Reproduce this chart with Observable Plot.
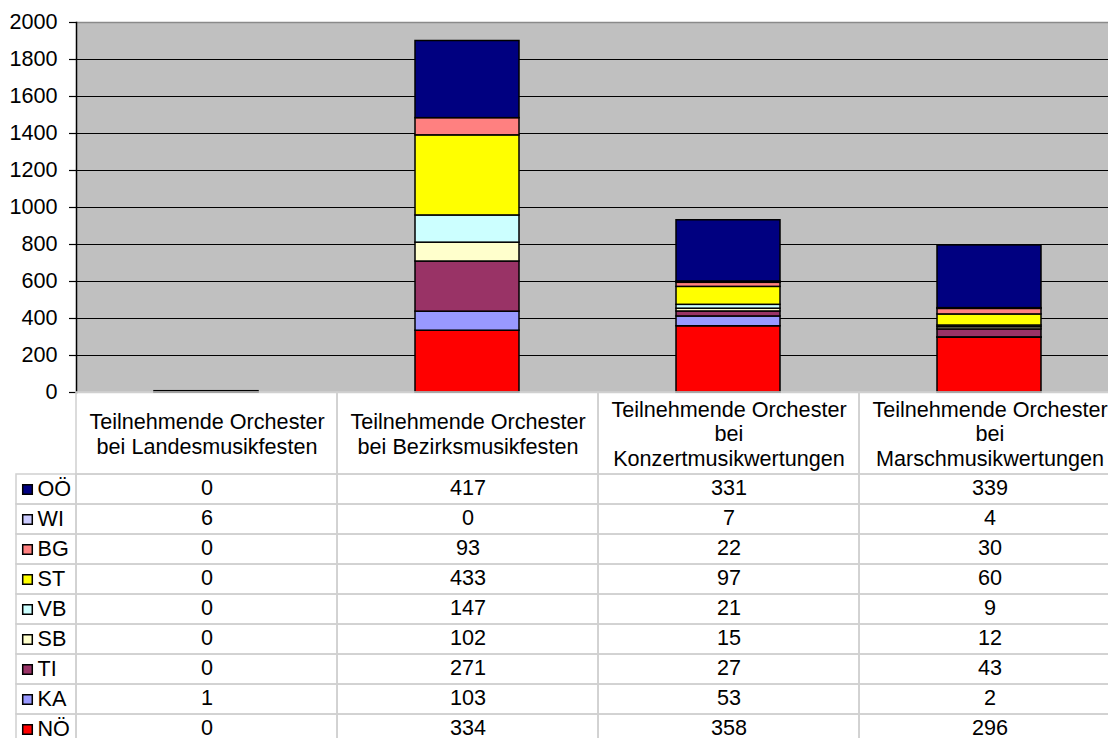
<!DOCTYPE html>
<html><head><meta charset="utf-8">
<script src="https://cdn.jsdelivr.net/npm/d3@7"></script>
<script src="https://cdn.jsdelivr.net/npm/@observablehq/plot@0.6"></script>
<style>
html,body{margin:0;padding:0;background:#fff;overflow:hidden;width:1108px;height:738px}
body{font-family:"Liberation Sans",Arial,sans-serif}
.row{display:flex;flex-wrap:nowrap}
svg{display:block;flex:none;max-width:none !important}
</style></head><body>
<div id="chart"></div>
<div class="row"><div style="width:76px;flex:none"></div><div id="head"></div></div>
<div class="row"><div id="legend"></div><div id="cells"></div></div>
<script>
const categories = [
  "Teilnehmende Orchester\nbei Landesmusikfesten",
  "Teilnehmende Orchester\nbei Bezirksmusikfesten",
  "Teilnehmende Orchester\nbei\nKonzertmusikwertungen",
  "Teilnehmende Orchester\nbei\nMarschmusikwertungen"
];
const seriesNames = ["OÖ", "WI", "BG", "ST", "VB", "SB", "TI", "KA", "NÖ"];
const seriesColors = ["#000080", "#ccccff", "#ff8080", "#ffff00", "#ccffff", "#ffffcc", "#993366", "#9999ff", "#ff0000"];
const valuesOO = [0, 417, 331, 339];
const valuesWI = [6, 0, 7, 4];
const valuesBG = [0, 93, 22, 30];
const valuesST = [0, 433, 97, 60];
const valuesVB = [0, 147, 21, 9];
const valuesSB = [0, 102, 15, 12];
const valuesTI = [0, 271, 27, 43];
const valuesKA = [1, 103, 53, 2];
const valuesNO = [0, 334, 358, 296];
const yTicks = [0, 200, 400, 600, 800, 1000, 1200, 1400, 1600, 1800, 2000];

const seriesValues = [valuesOO, valuesWI, valuesBG, valuesST, valuesVB, valuesSB, valuesTI, valuesKA, valuesNO];
const font = "Liberation Sans, Arial, sans-serif";
const gridGray = "#d0d0d0";
const fs = 21.6;

const tableData = [];
seriesNames.forEach((s, k) => categories.forEach((c, i) => tableData.push({category: c, series: s, value: seriesValues[k][i]})));
const stackData = [];
seriesNames.slice().reverse().forEach(s => {
  const k = seriesNames.indexOf(s);
  categories.forEach((c, i) => stackData.push({category: c, series: s, value: seriesValues[k][i]}));
});

const colorScale = {domain: seriesNames, range: seriesColors};
const baseStyle = {fontFamily: font, fontSize: fs + "px", color: "#000", background: "transparent", overflow: "visible", maxWidth: "none"};

const chart = Plot.plot({
  width: 1120, height: 392,
  marginLeft: 76, marginRight: 0, marginTop: 22, marginBottom: 0,
  style: baseStyle,
  x: {domain: categories, paddingInner: 0.6, paddingOuter: 0.3, axis: null},
  y: {domain: [0, 2000], axis: null},
  color: colorScale,
  marks: [
    Plot.frame({fill: "#c0c0c0", stroke: null}),
    Plot.gridY(yTicks.filter(t => t > 0 && t < 2000), {stroke: "#000", strokeOpacity: 1, strokeWidth: 1}),
    Plot.ruleY([2000], {stroke: "#8a8a8a", strokeWidth: 1.5}),
    Plot.ruleY([0], {stroke: gridGray, strokeWidth: 1.5}),
    Plot.barY(stackData, Plot.stackY({x: "category", y: "value", fill: "series", stroke: "#000", strokeWidth: 1.5, order: null})),
    Plot.frame({anchor: "left", stroke: "#000", strokeWidth: 1.5}),
    Plot.axisY({ticks: yTicks, label: null, tickSize: 7, tickPadding: 12, fontSize: fs, tickFormat: d => String(d), stroke: "#000", strokeWidth: 1.2})
  ]
});
document.getElementById("chart").appendChild(chart);

const head = Plot.plot({
  width: 1044, height: 82,
  margin: 0,
  style: baseStyle,
  x: {domain: categories, padding: 0, axis: null},
  marks: [
    Plot.cell(categories, {x: d => d, fill: "none", stroke: gridGray, strokeWidth: 1.5, inset: 0}),
    Plot.text(categories, {x: d => d, text: d => d, frameAnchor: "middle", lineHeight: 1.13, fontSize: fs, fill: "#000"})
  ]
});
document.getElementById("head").appendChild(head);

const legend = Plot.plot({
  width: 76, height: 270,
  marginLeft: 16, marginRight: 0, marginTop: 0, marginBottom: 0,
  style: baseStyle,
  y: {domain: seriesNames, padding: 0, axis: null},
  color: colorScale,
  marks: [
    Plot.cell(seriesNames, {y: d => d, fill: "none", stroke: gridGray, strokeWidth: 1.5, inset: 0}),
    Plot.dot(seriesNames, {y: d => d, fill: d => d, stroke: "#000", strokeWidth: 1.5, symbol: "square", r: 5.4, frameAnchor: "left", dx: 11}),
    Plot.text(seriesNames, {y: d => d, text: d => d, frameAnchor: "left", textAnchor: "start", dx: 21, fontSize: fs, fill: "#000"})
  ]
});
document.getElementById("legend").appendChild(legend);

const cells = Plot.plot({
  width: 1044, height: 270,
  margin: 0,
  style: baseStyle,
  x: {domain: categories, padding: 0, axis: null},
  y: {domain: seriesNames, padding: 0, axis: null},
  marks: [
    Plot.cell(tableData, {x: "category", y: "series", fill: "none", stroke: gridGray, strokeWidth: 1.5, inset: 0}),
    Plot.text(tableData, {x: "category", y: "series", text: d => String(d.value), fontSize: fs, fill: "#000", dy: -1})
  ]
});
document.getElementById("cells").appendChild(cells);
</script>
</body></html>
